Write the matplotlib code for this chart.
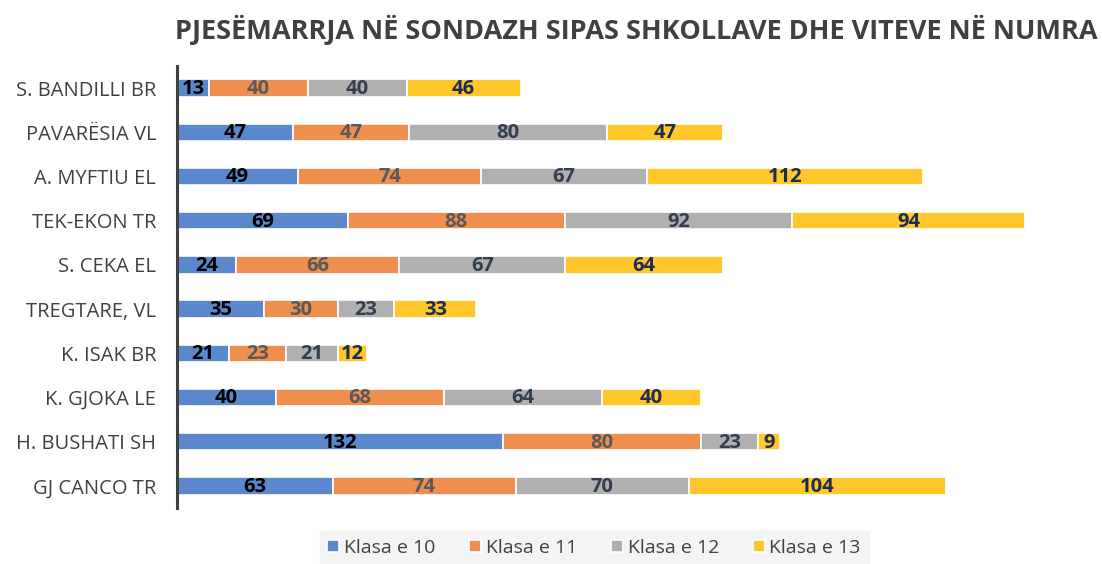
import numpy as np
import matplotlib.pyplot as plt

# ─── Data ─────────────────────────────────────────────────────────────────────
schools = ["S. BANDILLI BR", "PAVARËSIA VL", "A. MYFTIU EL", "TEK-EKON TR",
           "S. CEKA EL", "TREGTARE, VL", "K. ISAK BR", "K. GJOKA LE",
           "H. BUSHATI SH", "GJ CANCO TR"]
klasa10 = [13, 47, 49, 69, 24, 35, 21, 40, 132, 63]
klasa11 = [40, 47, 74, 88, 66, 30, 23, 68, 80, 74]
klasa12 = [40, 80, 67, 92, 67, 23, 21, 64, 23, 70]
klasa13 = [46, 47, 112, 94, 64, 33, 12, 40, 9, 104]
series_names = ["Klasa e 10", "Klasa e 11", "Klasa e 12", "Klasa e 13"]

colors      = ["#5B87CC", "#EF8F4F", "#B0B0B0", "#FFC72C"]
text_colors = ["#000000", "#595959", "#333F50", "#1F2D4D"]

plt.rcParams["font.family"] = ["Open Sans", "DejaVu Sans"]

fig = plt.figure(figsize=(11.02, 5.64), dpi=100)
ax = fig.add_axes([177 / 1102, 1 - 508 / 564, 865 / 1102, 442 / 564])

y = np.arange(len(schools))
left = np.zeros(len(schools))
for vals, name, c, tc in zip([klasa10, klasa11, klasa12, klasa13],
                             series_names, colors, text_colors):
    vals = np.array(vals)
    ax.barh(y, vals, left=left, height=0.39, color=c,
            edgecolor="white", linewidth=1.2, label=name)
    for yi, l, v in zip(y, left, vals):
        ax.text(l + v / 2, yi + 0.02, str(v), ha="center", va="center",
                fontsize=14.5, fontweight="bold", color=tc)
    left += vals

ax.set_xlim(0, 350)
ax.set_ylim(9.5, -0.5)
ax.set_yticks(y)
ax.set_yticklabels(schools, fontsize=14.5, color="#404040")
ax.tick_params(axis="y", length=0, pad=15)
ax.set_xticks([])
for s in ["top", "right", "bottom"]:
    ax.spines[s].set_visible(False)
ax.spines["left"].set_color("#404040")
ax.spines["left"].set_linewidth(2.2)

fig.text(0.577, 0.947, "PJESËMARRJA NË SONDAZH SIPAS SHKOLLAVE DHE VITEVE NË NUMRA",
         ha="center", va="center", fontsize=19.5, fontweight="bold", color="#404040")

leg = fig.legend(loc="center", bbox_to_anchor=(594 / 1102, 1 - 548 / 564), ncol=4,
                 frameon=True, fontsize=14, handlelength=0.6, handleheight=0.6,
                 handletextpad=0.25, columnspacing=1.75, borderpad=0.4,
                 borderaxespad=0, fancybox=False)
leg.get_frame().set_facecolor("#F2F2F2")
leg.get_frame().set_edgecolor("#F2F2F2")
for t in leg.get_texts():
    t.set_color("#404040")

plt.savefig("out.png", dpi=100)
